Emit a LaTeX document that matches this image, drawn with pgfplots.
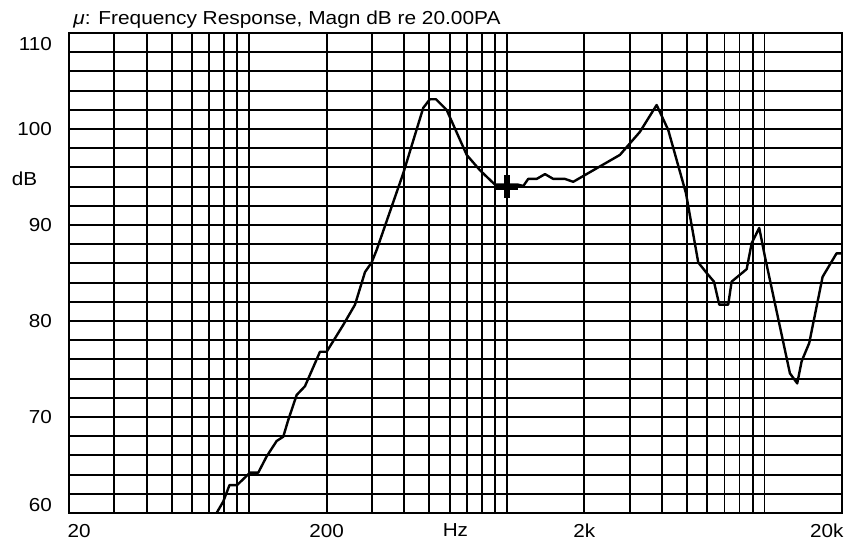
\documentclass[border=0pt]{standalone}
\usepackage{pgfplots}
\pgfplotsset{compat=1.18}
\usepackage{fontspec}
\setmainfont{Liberation Sans}
\newcommand{\wide}[1]{\scalebox{1.1}[1]{#1}}

\begin{document}
\begin{tikzpicture}[font=\fontsize{9.4}{11}\selectfont]
  \begin{axis}[
    scale only axis,
    width=386.5pt, height=240pt,
    xmode=log, log basis x=10,
    xmin=20, xmax=20000, ymin=60, ymax=110,
    ticklabel style={font=\fontsize{9.4}{11}\selectfont},
    axis line style={line width=1pt},
    clip mode=individual,
    % label positions (end labels pulled inward as in the original)
    xtick={21.87,200,632,2000,17476},
    xticklabels={\wide{20},\wide{200},\wide{Hz},\wide{2k},\wide{20k}},
    ytick={60.85,70,80,90,100,108.85},
    yticklabels={\wide{60},\wide{70},\wide{80},\wide{90},\wide{100},\wide{110}},
    major tick length=0pt, minor tick length=0pt,
    xmajorgrids=false, ymajorgrids=false,
    minor xtick={30,40,50,60,70,80,90,100,200,300,400,500,600,700,800,900,1000,
                 2000,3000,4000,5000,6000,7000,8000,9000,10000},
    minor ytick={62,64,...,108},
    xminorgrids=true, yminorgrids=true,
    minor grid style={black, line width=0.95pt},
    xticklabel style={inner xsep=0pt, yshift=-2pt},
    yticklabel style={xshift=-5pt},
    ]
    \addplot[black, line width=1.2pt, line join=round] coordinates {
      (70.5,58.9) (74.8,60.0) (79.4,61.2) (83.9,62.9) (89.7,62.9) (100.8,64.2)
      (108.5,64.2) (117,65.9) (127.9,67.5) (135.7,67.95) (141.9,69.7) (153,72.3)
      (164.7,73.2) (188.4,76.8) (200,76.8) (232,79.6) (257.6,81.7) (281.7,85.1)
      (299,86.1) (312.6,87.4) (396.6,95.4) (474,102.2) (503,103.1) (531,103.1)
      (584,102.0) (699,97.3) (787,95.7) (900,94.2) (955,94.2) (1108,94.2)
      (1159,94.06) (1211,94.8) (1306,94.8) (1407,95.3) (1515,94.8) (1681,94.8)
      (1811,94.5) (2748,97.3) (3286,99.7) (3816,102.5) (4232,99.9) (4960,93.3)
      (5534,86.1) (5966,85.0) (6368,84.1) (6678,81.7) (7234,81.7) (7458,84.1)
      (8530,85.4) (8920,88.1) (9544,89.7) (10042,86.7) (12556,74.55) (13402,73.5)
      (13940,75.8) (14918,77.7) (16816,84.6) (19056,87.05) (20000,87.05)
    };
    % cursor cross at 1 kHz
    \addplot[black, line width=3pt] coordinates {(902,94.0) (1108,94.0)};
    \addplot[black, line width=3pt] coordinates {(1000,92.8) (1000,95.2)};
    \node[xshift=-22.25pt] at (axis cs:20,94.84) {\wide{dB}};
    \node[anchor=base west, inner sep=0pt, xshift=2pt, yshift=4pt]
      at (rel axis cs:0,1) {\scalebox{1.11}[1]{\textit{μ}: Frequency Response, Magn dB re 20.00PA}};
  \end{axis}
  \path (current axis.south west) +(-34.5pt,-13pt) (current axis.north east) +(2pt,16.5pt);
\end{tikzpicture}
\end{document}
